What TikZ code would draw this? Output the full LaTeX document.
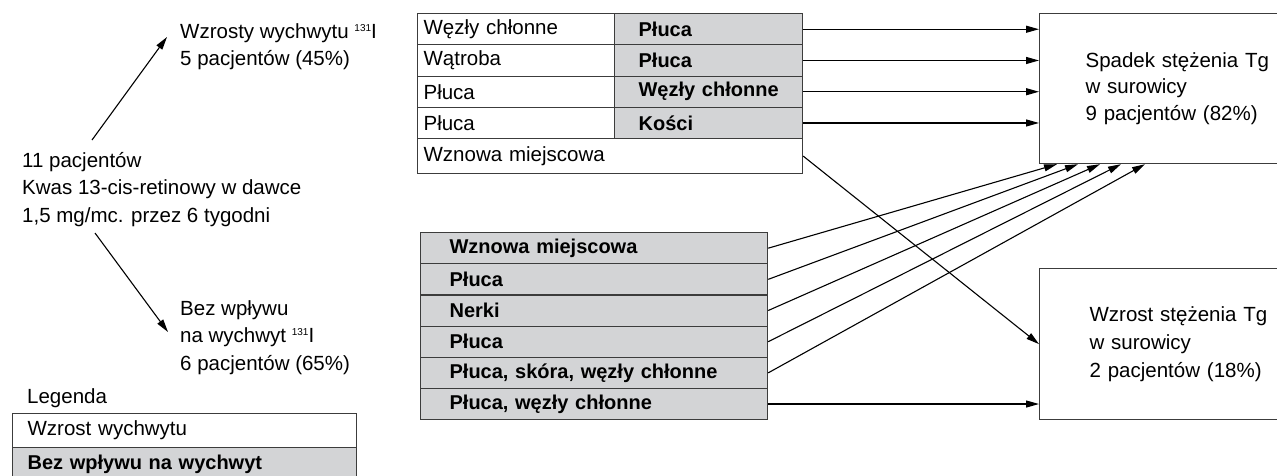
\documentclass[tikz,border=0pt]{standalone}
\usepackage{fontspec}
\setmainfont{Liberation Sans}
\usetikzlibrary{arrows.meta}
\definecolor{cellgray}{HTML}{D3D4D6}
\definecolor{edgegray}{HTML}{3C3C3C}
\newcommand{\isotope}{\raisebox{7pt}{\fontsize{10}{10}\selectfont 131}I}
\newcommand{\nb}[1]{\mbox{#1}}
\begin{document}
\begin{tikzpicture}[x=1pt,y=-1pt,
  txt/.style={inner sep=0pt, align=left, anchor=base west, font=\fontsize{20.5}{27.5}\selectfont},
  cell/.style={draw=edgegray, line width=1.2pt, anchor=north west, inner ysep=0pt, align=left, font=\fontsize{20.5}{24}\selectfont},
  graycell/.style={cell, fill=cellgray, font=\fontsize{20}{24}\selectfont\bfseries},
  outbox/.style={draw=edgegray, line width=1.2pt, anchor=north west, inner ysep=0pt, align=left, font=\fontsize{20.5}{28}\selectfont},
  arr/.style={line width=1.1pt, -{Triangle[length=13pt,width=7pt]}}]
\useasboundingbox (0,0) rectangle (1277,475);

% left texts (anchor = baseline of last line)
\node[txt, font=\fontsize{20.5}{27}\selectfont] (up) at (180,65) {Wzrosty wychwytu \isotope\\5 pacjentów (45\%)};
\node[txt] (src) at (22,222) {11 pacjentów\\Kwas 13-cis-retinowy w dawce\\1,5 mg/mc. przez 6 tygodni};
\node[txt] (down) at (180,370) {Bez wpływu\\na wychwyt \isotope\\6 pacjentów (65\%)};
\coordinate (s1) at (92,140);
\coordinate (e1) at (167,37);
\coordinate (s2) at (95,233);
\coordinate (e2) at (168,332);
\draw[arr] (s1) -- (e1);
\draw[arr] (s2) -- (e2);

% legend
\node[txt] (leg) at (27,403) {Legenda};
\node[cell, fill=white, minimum width=344pt, minimum height=34pt, inner xsep=15pt, text width=314pt] (l1) at (12,413) {\nb{Wzrost wychwytu}};
\node[graycell, minimum width=344pt, minimum height=34pt, inner xsep=15pt, text width=314pt] (l2) at (12,447) {\nb{Bez wpływu na wychwyt}};

% top table
\node[cell, minimum width=197pt, minimum height=31.25pt, inner xsep=6pt, text width=185pt] (a1) at (417,13) {\nb{Węzły chłonne}};
\node[graycell, minimum width=188pt, minimum height=31.25pt, inner xsep=24pt, text width=140pt] (b1) at (614,13) {\nb{Płuca}};
\node[cell, minimum width=197pt, minimum height=31.25pt, inner xsep=6pt, text width=185pt] (a2) at (417,44.25) {\nb{Wątroba}};
\node[graycell, minimum width=188pt, minimum height=31.25pt, inner xsep=24pt, text width=140pt] (b2) at (614,44.25) {\nb{Płuca}};
\node[cell, minimum width=197pt, minimum height=31.25pt, inner xsep=6pt, text width=185pt] (a3) at (417,75.5) {\nb{Płuca}};
\node[graycell, minimum width=188pt, minimum height=31.25pt, inner xsep=24pt, text width=140pt] (b3) at (614,75.5) {\nb{Węzły chłonne}};
\node[cell, minimum width=197pt, minimum height=31.25pt, inner xsep=6pt, text width=185pt] (a4) at (417,106.75) {\nb{Płuca}};
\node[graycell, minimum width=188pt, minimum height=31.25pt, inner xsep=24pt, text width=140pt] (b4) at (614,106.75) {\nb{Kości}};
\node[cell, minimum width=385pt, minimum height=35pt, inner xsep=6pt, text width=373pt] (a5) at (417,138) {\nb{Wznowa miejscowa}};

% bottom table
\node[graycell, minimum width=347pt, minimum height=31.17pt, inner xsep=29pt, text width=289pt] (c1) at (420,232) {\nb{Wznowa miejscowa}};
\node[graycell, minimum width=347pt, minimum height=31.17pt, inner xsep=29pt, text width=289pt] (c2) at (420,263.17) {\nb{Płuca}};
\node[graycell, minimum width=347pt, minimum height=31.17pt, inner xsep=29pt, text width=289pt] (c3) at (420,294.33) {\nb{Nerki}};
\node[graycell, minimum width=347pt, minimum height=31.17pt, inner xsep=29pt, text width=289pt] (c4) at (420,325.5) {\nb{Płuca}};
\node[graycell, minimum width=347pt, minimum height=31.17pt, inner xsep=29pt, text width=289pt] (c5) at (420,356.67) {\nb{Płuca, skóra, węzły chłonne}};
\node[graycell, minimum width=347pt, minimum height=31.17pt, inner xsep=29pt, text width=289pt] (c6) at (420,387.83) {\nb{Płuca, węzły chłonne}};

% outcome boxes
\node[outbox, font=\fontsize{20.5}{26.5}\selectfont, minimum width=246pt, minimum height=150pt, inner xsep=46pt, text width=154pt] (box1) at (1039,13) {\nb{Spadek stężenia Tg}\\\nb{w surowicy}\\\nb{9 pacjentów (82\%)}};
\node[outbox, minimum width=246pt, minimum height=151pt, inner xsep=50pt, text width=146pt] (box2) at (1039,268) {\nb{Wzrost stężenia Tg}\\\nb{w surowicy}\\\nb{2 pacjentów (18\%)}};

% connectors
\draw[arr] (b1.east) -- (b1.east -| box1.west);
\draw[arr] (b2.east) -- (b2.east -| box1.west);
\draw[arr] (b3.east) -- (b3.east -| box1.west);
\draw[arr] (b4.east) -- (b4.east -| box1.west);
\draw[arr] (a5.east) -- (box2.west);
\draw[arr] (c1.east) -- ([xshift=18pt]box1.south west);
\draw[arr] (c2.east) -- ([xshift=39pt]box1.south west);
\draw[arr] (c3.east) -- ([xshift=61pt]box1.south west);
\draw[arr] (c4.east) -- ([xshift=82pt]box1.south west);
\draw[arr] (c5.east) -- ([xshift=106pt]box1.south west);
\draw[arr] (c6.east) -- (c6.east -| box2.west);
\end{tikzpicture}
\end{document}
